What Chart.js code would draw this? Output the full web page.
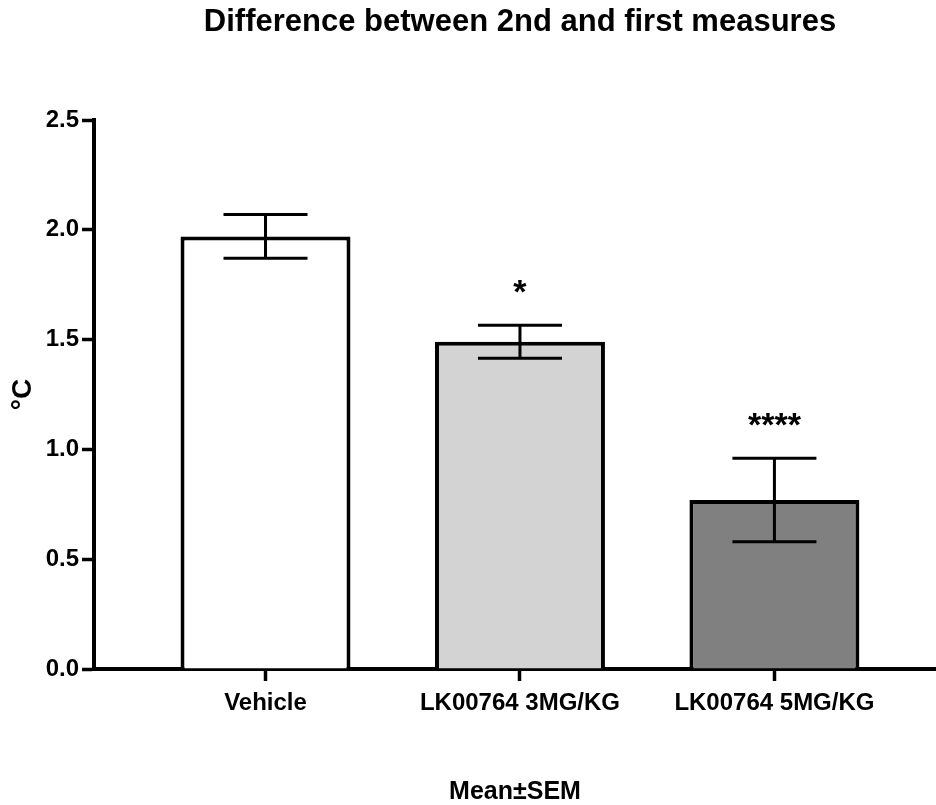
<!DOCTYPE html>
<html>
<head>
<meta charset="utf-8">
<script src="https://cdn.jsdelivr.net/npm/chart.js@4/dist/chart.umd.min.js"></script>
<style>
  html, body { margin: 0; padding: 0; background: #ffffff; }
  #c { display: block; }
</style>
</head>
<body>
<canvas id="c" width="936" height="805"></canvas>
<script>
// Group names, mean change (°C), SEM and significance marks
const categories = ['Vehicle', 'LK00764 3MG/KG', 'LK00764 5MG/KG'];
const means = [1.97, 1.49, 0.77];
const sems = [0.10, 0.075, 0.19];
const significance = ['', '*', '****'];
const yTickValues = [0, 0.5, 1.0, 1.5, 2.0, 2.5];
const barColors = ['#ffffff', '#d3d3d3', '#808080'];

const FONT = '"Liberation Sans", Arial, Helvetica, sans-serif';

// White page background
const background = {
  id: 'background',
  beforeDraw(chart) {
    const ctx = chart.ctx;
    ctx.save();
    ctx.fillStyle = '#ffffff';
    ctx.fillRect(0, 0, chart.width, chart.height);
    ctx.restore();
  }
};

// Chart heading
const heading = {
  id: 'heading',
  afterDraw(chart) {
    const ctx = chart.ctx;
    ctx.save();
    ctx.font = 'bold 31px ' + FONT;
    ctx.fillStyle = '#000000';
    ctx.textAlign = 'center';
    ctx.textBaseline = 'alphabetic';
    ctx.fillText('Difference between 2nd and first measures', 520, 31);
    ctx.restore();
  }
};

// SEM whiskers and significance stars above each bar
const errorBars = {
  id: 'errorBars',
  afterDatasetsDraw(chart) {
    const ctx = chart.ctx;
    const y = chart.scales.y;
    const meta = chart.getDatasetMeta(0);
    ctx.save();
    ctx.strokeStyle = '#000000';
    ctx.lineWidth = 3;
    ctx.lineCap = 'butt';
    meta.data.forEach((bar, i) => {
      const cx = bar.x;
      const top = y.getPixelForValue(means[i] + sems[i]);
      const bottom = y.getPixelForValue(means[i] - sems[i]);
      const half = 42;
      ctx.beginPath();
      ctx.moveTo(cx, top);
      ctx.lineTo(cx, bottom);
      ctx.moveTo(cx - half, top);
      ctx.lineTo(cx + half, top);
      ctx.moveTo(cx - half, bottom);
      ctx.lineTo(cx + half, bottom);
      ctx.stroke();
      if (significance[i]) {
        ctx.font = 'bold 34px ' + FONT;
        ctx.fillStyle = '#000000';
        ctx.textAlign = 'center';
        ctx.textBaseline = 'alphabetic';
        ctx.fillText(significance[i], cx, top - 22);
      }
    });
    ctx.restore();
  }
};

new Chart(document.getElementById('c'), {
  type: 'bar',
  data: {
    datasets: [{
      data: categories.map((_, i) => ({ x: i, y: means[i] })),
      backgroundColor: barColors,
      borderColor: '#000000',
      borderWidth: 4,
      borderSkipped: 'start',
      categoryPercentage: 1,
      barPercentage: 0.668
    }]
  },
  options: {
    responsive: false,
    animation: false,
    devicePixelRatio: 1,
    layout: { padding: { top: 120, right: 0, bottom: 0, left: 0 } },
    plugins: {
      legend: { display: false },
      tooltip: { enabled: false },
      title: { display: false }
    },
    scales: {
      x: {
        type: 'linear',
        offset: false,
        min: -0.674,
        max: 2.635,
        afterBuildTicks(scale) {
          scale.ticks = categories.map((_, i) => ({ value: i }));
        },
        afterFit(scale) { scale.height = 136; },
        ticks: {
          color: '#000000',
          font: { family: FONT, size: 24, weight: 'bold' },
          padding: 8,
          maxRotation: 0,
          autoSkip: false,
          callback: (v) => categories[v] ?? ''
        },
        grid: {
          offset: false,
          drawOnChartArea: false,
          drawTicks: true,
          tickLength: 12,
          tickWidth: 3.5,
          tickColor: '#000000'
        },
        border: { display: true, color: '#000000', width: 4 },
        title: {
          display: true,
          text: 'Mean±SEM',
          color: '#000000',
          font: { family: FONT, size: 25, weight: 'bold', lineHeight: 1 },
          padding: { top: 0, bottom: 0 }
        }
      },
      y: {
        min: 0,
        max: 2.5,
        afterBuildTicks(scale) {
          scale.ticks = yTickValues.map(v => ({ value: v }));
        },
        afterFit(scale) { scale.width = 94; },
        ticks: {
          color: '#000000',
          font: { family: FONT, size: 24, weight: 'bold' },
          padding: 3,
          callback: (v) => Number(v).toFixed(1)
        },
        grid: {
          drawOnChartArea: false,
          drawTicks: true,
          tickLength: 12,
          tickWidth: 3.5,
          tickColor: '#000000'
        },
        border: { display: true, color: '#000000', width: 4 },
        title: {
          display: true,
          text: '°C',
          color: '#000000',
          font: { family: FONT, size: 28, weight: 'bold', lineHeight: 1.2 },
          padding: { top: 6, bottom: 0 }
        }
      }
    }
  },
  plugins: [background, errorBars, heading]
});
</script>
</body>
</html>
